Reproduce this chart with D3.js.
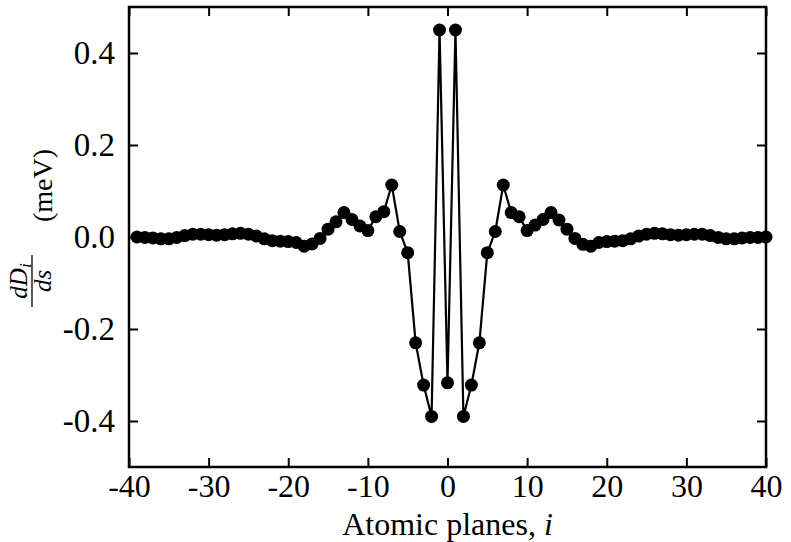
<!DOCTYPE html>
<html>
<head>
<meta charset="utf-8">
<script src="https://cdn.jsdelivr.net/npm/d3@7"></script>
<style>
  body { margin: 0; background: #fff; }
  svg text { font-family: "Liberation Serif", "DejaVu Serif", serif; fill: #000; }
  .axis path { display: none; }
  .axis line { stroke: #000; stroke-width: 2; }
</style>
</head>
<body>
<div id="chart"></div>
<script>
// atomic plane index
const planes = d3.range(-39, 41);

// dD_i/ds in meV, one per plane
const dDds = [
  0.000, -0.001, -0.002, -0.004, -0.004, -0.001, 0.003, 0.006, 0.006, 0.005,   // -39..-30
  0.004, 0.005, 0.007, 0.008, 0.006, 0.002, -0.004, -0.008, -0.009, -0.010,     // -29..-20
  -0.012, -0.020, -0.015, -0.003, 0.017, 0.033, 0.053, 0.038, 0.024, 0.014,     // -19..-10
  0.044, 0.055, 0.113, 0.012, -0.034, -0.230, -0.322, -0.390, 0.450,            // -9..-1
  -0.317,                                                                        // 0
  0.450, -0.390, -0.322, -0.230, -0.034, 0.012, 0.113, 0.053, 0.044, 0.014,     // 1..10
  0.026, 0.038, 0.053, 0.037, 0.017, -0.003, -0.016, -0.020, -0.012, -0.010,    // 11..20
  -0.009, -0.008, -0.004, 0.002, 0.006, 0.008, 0.007, 0.005, 0.004, 0.005,      // 21..30
  0.006, 0.006, 0.003, -0.001, -0.004, -0.004, -0.002, -0.001, -0.001, 0.000    // 31..40
];

const xTicks = [-40, -30, -20, -10, 0, 10, 20, 30, 40];
const yTicks = [-0.4, -0.2, 0.0, 0.2, 0.4];

const width = 791, height = 542;
const margin = { top: 7, right: 25, bottom: 75, left: 129 };
const w = width - margin.left - margin.right,
      h = height - margin.top - margin.bottom;

const svg = d3.select("#chart").append("svg")
    .attr("width", width)
    .attr("height", height);

const g = svg.append("g")
    .attr("transform", "translate(" + margin.left + "," + margin.top + ")");

const x = d3.scaleLinear().domain([-40, 40]).range([0, w]);
const y = d3.scaleLinear().domain([-0.5, 0.5]).range([h, 0]);

const fmtY = d => d3.format(".1f")(d).replace("\u2212", "-");

// axes with inward ticks on all four sides
g.append("g").attr("class", "axis")
    .attr("transform", "translate(0," + h + ")")
    .call(d3.axisBottom(x).tickValues(xTicks).tickSizeInner(-9).tickSizeOuter(0)
        .tickPadding(7).tickFormat(d => String(d)))
    .selectAll("text").style("font-size", "32px");

g.append("g").attr("class", "axis")
    .call(d3.axisTop(x).tickValues(xTicks).tickSizeInner(-9).tickSizeOuter(0).tickFormat(""));

g.append("g").attr("class", "axis")
    .call(d3.axisLeft(y).tickValues(yTicks).tickSizeInner(-9).tickSizeOuter(0)
        .tickPadding(14).tickFormat(fmtY))
    .selectAll("text").style("font-size", "33px");

g.append("g").attr("class", "axis")
    .attr("transform", "translate(" + w + ",0)")
    .call(d3.axisRight(y).tickValues(yTicks).tickSizeInner(-9).tickSizeOuter(0).tickFormat(""));

// data line and markers
const pts = planes.map((p, i) => [p, dDds[i]]);

g.append("path")
    .datum(pts)
    .attr("fill", "none")
    .attr("stroke", "#000")
    .attr("stroke-width", 2.2)
    .attr("d", d3.line().x(d => x(d[0])).y(d => y(d[1])));

g.selectAll("circle.pt")
    .data(pts)
    .enter().append("circle")
    .attr("class", "pt")
    .attr("cx", d => x(d[0]))
    .attr("cy", d => y(d[1]))
    .attr("r", 6.5)
    .attr("fill", "#000");

// frame
g.append("rect")
    .attr("width", w)
    .attr("height", h)
    .attr("fill", "none")
    .attr("stroke", "#000")
    .attr("stroke-width", 2.5);

// x label
const xl = svg.append("text")
    .attr("x", margin.left + x(0))
    .attr("y", 535)
    .attr("text-anchor", "middle")
    .style("font-size", "32px");
xl.append("tspan").text("Atomic planes, ");
xl.append("tspan").style("font-style", "italic").text("i");

// y label: fraction dD_i/ds followed by (meV), rotated
// local x = 237 - screen y, local y = screen x
const yl = svg.append("g")
    .attr("transform", "translate(0," + (margin.top + y(0)) + ") rotate(-90)");

yl.append("line")
    .attr("x1", -70).attr("x2", -18)
    .attr("y1", 32).attr("y2", 32)
    .attr("stroke", "#000").attr("stroke-width", 1.3);

const num = yl.append("text")
    .attr("x", -44).attr("y", 27)
    .attr("text-anchor", "middle")
    .style("font-size", "25px").style("font-style", "italic");
num.append("tspan").text("dD");
num.append("tspan").attr("dy", 4).style("font-size", "17px").text("i");

yl.append("text")
    .attr("x", -44).attr("y", 51)
    .attr("text-anchor", "middle")
    .style("font-size", "25px").style("font-style", "italic")
    .text("ds");

yl.append("text")
    .attr("x", 15).attr("y", 52)
    .attr("text-anchor", "start")
    .style("font-size", "28px")
    .text("(meV)");
</script>
</body>
</html>
